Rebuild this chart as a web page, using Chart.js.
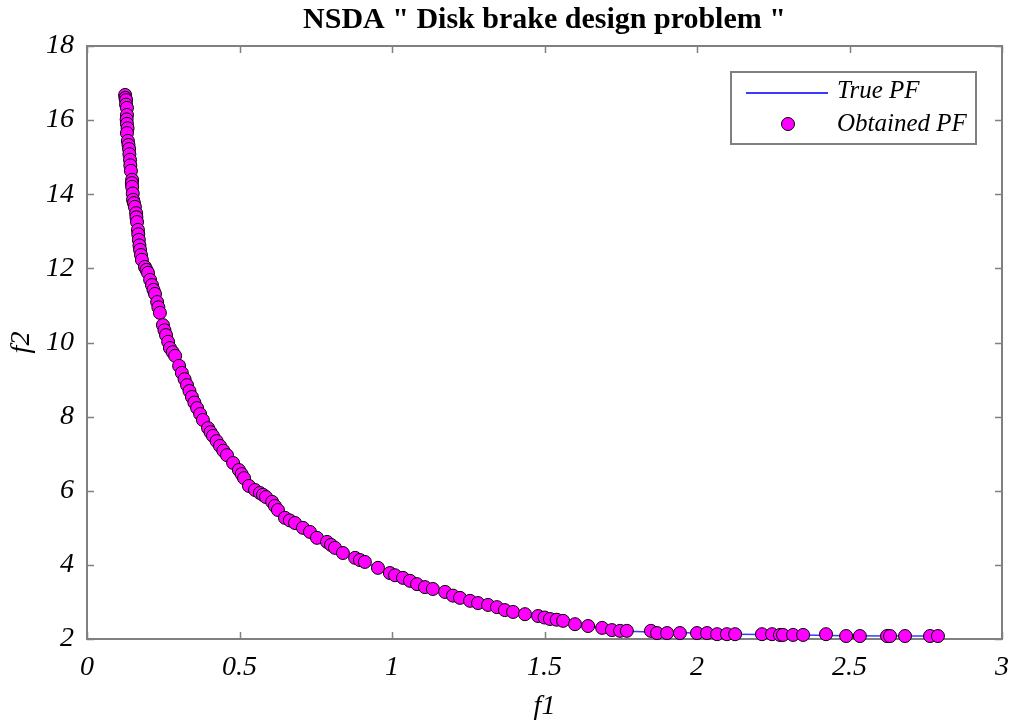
<!DOCTYPE html>
<html>
<head>
<meta charset="utf-8">
<title>NSDA Disk brake design problem</title>
<script src="https://cdn.jsdelivr.net/npm/chart.js@4.4.1/dist/chart.umd.min.js"></script>
<style>
    html, body { margin: 0; padding: 0; background: #fff; }
    #wrap { width: 1009px; height: 721px; }
</style>
</head>
<body>
<div id="wrap"><canvas id="pfChart" width="1009" height="721"></canvas></div>
<script>
// Obtained Pareto front
const obtainedF1 = [
    0.125, 0.126, 0.128, 0.128, 0.131, 0.131, 0.130, 0.131, 0.133, 0.131,
    0.134, 0.136, 0.138, 0.139, 0.141, 0.142, 0.144, 0.148, 0.147, 0.148,
    0.150, 0.151, 0.154, 0.157, 0.161, 0.162, 0.164, 0.167, 0.168, 0.170,
    0.172, 0.174, 0.177, 0.180, 0.190, 0.195, 0.200, 0.207, 0.213, 0.218,
    0.223, 0.230, 0.234, 0.239, 0.249, 0.254, 0.259, 0.266, 0.272, 0.281,
    0.289, 0.302, 0.311, 0.320, 0.328, 0.336, 0.344, 0.352, 0.361, 0.371,
    0.380, 0.397, 0.405, 0.413, 0.425, 0.436, 0.447, 0.459, 0.479, 0.498,
    0.507, 0.515, 0.531, 0.551, 0.567, 0.577, 0.587, 0.607, 0.616, 0.626,
    0.649, 0.665, 0.682, 0.708, 0.731, 0.754, 0.787, 0.800, 0.813, 0.839,
    0.879, 0.895, 0.911, 0.954, 0.993, 1.010, 1.036, 1.059, 1.082, 1.108,
    1.134, 1.174, 1.200, 1.223, 1.256, 1.282, 1.315, 1.344, 1.370, 1.397,
    1.436, 1.479, 1.500, 1.518, 1.540, 1.561, 1.600, 1.643, 1.689, 1.721,
    1.748, 1.770, 1.849, 1.869, 1.902, 1.944, 2.000, 2.033, 2.066, 2.098,
    2.125, 2.213, 2.246, 2.272, 2.282, 2.315, 2.348, 2.423, 2.489, 2.534,
    2.623, 2.633, 2.682, 2.764, 2.790
];
const obtainedF2 = [
    16.68, 16.60, 16.54, 16.42, 16.33, 16.14, 16.02, 15.90, 15.78, 15.65,
    15.44, 15.33, 15.22, 15.08, 14.93, 14.78, 14.63, 14.39, 14.30, 14.20,
    14.02, 13.85, 13.76, 13.66, 13.49, 13.38, 13.25, 13.04, 12.92, 12.77,
    12.62, 12.50, 12.36, 12.23, 12.04, 11.96, 11.88, 11.69, 11.55, 11.42,
    11.31, 11.09, 10.95, 10.80, 10.47, 10.33, 10.20, 10.02, 9.85, 9.74,
    9.64, 9.37, 9.18, 9.01, 8.85, 8.69, 8.53, 8.38, 8.23, 8.07,
    7.91, 7.69, 7.58, 7.48, 7.34, 7.21, 7.08, 6.96, 6.75, 6.56,
    6.45, 6.34, 6.13, 6.02, 5.94, 5.89, 5.83, 5.70, 5.59, 5.48,
    5.27, 5.20, 5.13, 5.00, 4.89, 4.73, 4.62, 4.54, 4.46, 4.32,
    4.19, 4.13, 4.08, 3.92, 3.78, 3.72, 3.65, 3.57, 3.48, 3.40,
    3.35, 3.27, 3.17, 3.11, 3.03, 2.97, 2.92, 2.86, 2.78, 2.73,
    2.67, 2.62, 2.58, 2.54, 2.52, 2.49, 2.40, 2.35, 2.30, 2.24,
    2.22, 2.22, 2.22, 2.16, 2.16, 2.16, 2.16, 2.16, 2.13, 2.13,
    2.13, 2.13, 2.13, 2.11, 2.11, 2.11, 2.11, 2.13, 2.08, 2.08,
    2.08, 2.08, 2.08, 2.08, 2.08
];

// True Pareto front
const trueF1 = [
    0.125, 0.131, 0.141, 0.151, 0.164, 0.180, 0.200, 0.223, 0.249, 0.272,
    0.302, 0.344, 0.380, 0.436, 0.498, 0.551, 0.607, 0.682, 0.754, 0.839,
    0.954, 1.082, 1.223, 1.370, 1.518, 1.643, 1.770, 1.849, 2.000, 2.125,
    2.213, 2.348, 2.489, 2.633, 2.790
];
const trueF2 = [
    16.68, 16.14, 14.93, 13.85, 13.25, 12.23, 11.88, 11.31, 10.47, 9.85,
    9.37, 8.53, 7.91, 7.21, 6.56, 6.02, 5.70, 5.13, 4.73, 4.32,
    3.92, 3.48, 3.11, 2.78, 2.54, 2.35, 2.21, 2.19, 2.16, 2.13,
    2.12, 2.11, 2.09, 2.08, 2.08
];

const xTicks = [0, 0.5, 1, 1.5, 2, 2.5, 3];
const yTicks = [2, 4, 6, 8, 10, 12, 14, 16, 18];
const seriesNames = ['True PF', 'Obtained PF'];
const chartTitle = 'NSDA " Disk brake design problem "';

const frameColor = '#808080';
const serif = '"Liberation Serif", "DejaVu Serif", serif';

// frame + inward ticks, matlab style
const matlabFrame = {
    id: 'matlabFrame',
    beforeDatasetsDraw(chart) {
        const { ctx, chartArea: a, scales } = chart;
        const tl = 7;
        ctx.save();
        ctx.strokeStyle = frameColor;
        ctx.lineWidth = 2;
        ctx.strokeRect(a.left, a.top, a.right - a.left, a.bottom - a.top);
        ctx.lineWidth = 1.5;
        ctx.beginPath();
        xTicks.forEach(v => {
            const px = Math.round(scales.x.getPixelForValue(v)) + 0.5;
            ctx.moveTo(px, a.bottom); ctx.lineTo(px, a.bottom - tl);
            ctx.moveTo(px, a.top); ctx.lineTo(px, a.top + tl);
        });
        yTicks.forEach(v => {
            const py = Math.round(scales.y.getPixelForValue(v)) + 0.5;
            ctx.moveTo(a.left, py); ctx.lineTo(a.left + tl, py);
            ctx.moveTo(a.right, py); ctx.lineTo(a.right - tl, py);
        });
        ctx.stroke();

        // title
        ctx.fillStyle = '#000';
        ctx.font = 'bold 30px ' + serif;
        ctx.textAlign = 'center';
        ctx.textBaseline = 'middle';
        ctx.fillText(chartTitle, (a.left + a.right) / 2, 20);
        ctx.restore();
    }
};

// legend box inside the axes, top right
const boxLegend = {
    id: 'boxLegend',
    afterDatasetsDraw(chart) {
        const { ctx, chartArea: a } = chart;
        const w = 245, h = 72;
        const x0 = a.right - 26 - w, y0 = a.top + 26;
        const lineDs = chart.data.datasets[1];
        const dotDs = chart.data.datasets[0];
        ctx.save();
        ctx.fillStyle = '#fff';
        ctx.fillRect(x0, y0, w, h);
        ctx.strokeStyle = frameColor;
        ctx.lineWidth = 2;
        ctx.strokeRect(x0, y0, w, h);

        // line sample
        ctx.strokeStyle = lineDs.borderColor;
        ctx.lineWidth = 2;
        ctx.beginPath();
        ctx.moveTo(x0 + 15, y0 + 21);
        ctx.lineTo(x0 + 97, y0 + 21);
        ctx.stroke();

        // marker sample
        ctx.beginPath();
        ctx.arc(x0 + 57, y0 + 52, 6.5, 0, Math.PI * 2);
        ctx.fillStyle = dotDs.pointBackgroundColor;
        ctx.fill();
        ctx.lineWidth = 1;
        ctx.strokeStyle = dotDs.pointBorderColor;
        ctx.stroke();

        ctx.fillStyle = '#000';
        ctx.font = 'italic 25px ' + serif;
        ctx.textAlign = 'left';
        ctx.textBaseline = 'middle';
        ctx.fillText(seriesNames[0], x0 + 106, y0 + 19);
        ctx.fillText(seriesNames[1], x0 + 106, y0 + 52);
        ctx.restore();
    }
};

const ctx = document.getElementById('pfChart').getContext('2d');
const pfChart = new Chart(ctx, {
    type: 'scatter',
    data: {
        datasets: [
            {
                label: seriesNames[1],
                data: obtainedF1.map((v, i) => ({ x: v, y: obtainedF2[i] })),
                pointBackgroundColor: '#ff00ff',
                pointBorderColor: '#000000',
                pointBorderWidth: 1,
                pointRadius: 6.5,
                showLine: false,
                clip: false
            },
            {
                label: seriesNames[0],
                data: trueF1.map((v, i) => ({ x: v, y: trueF2[i] })),
                borderColor: '#3a3aff',
                borderWidth: 1.5,
                pointRadius: 0,
                showLine: true,
                tension: 0,
                clip: false
            }
        ]
    },
    options: {
        responsive: false,
        animation: false,
        devicePixelRatio: 1,
        layout: {
            autoPadding: false,
            padding: { left: 0, right: 7, top: 46, bottom: 0 }
        },
        plugins: {
            legend: { display: false },
            title: { display: false },
            tooltip: { enabled: false }
        },
        scales: {
            x: {
                type: 'linear',
                min: 0,
                max: 3,
                afterBuildTicks: s => { s.ticks = xTicks.map(v => ({ value: v })); },
                afterFit: s => {
                    s.height = 82;
                    s.paddingLeft = 0;
                    s.paddingRight = 0;
                },
                grid: { display: false, drawTicks: false },
                border: { display: false },
                ticks: {
                    color: '#000',
                    font: { family: serif, size: 28, style: 'italic' },
                    padding: 12,
                    maxRotation: 0,
                    callback: v => String(v)
                },
                title: {
                    display: true,
                    text: 'f1',
                    color: '#000',
                    font: { family: serif, size: 28, style: 'italic', lineHeight: 1 },
                    padding: { top: 0, bottom: 0 }
                }
            },
            y: {
                type: 'linear',
                min: 2,
                max: 18,
                afterBuildTicks: s => { s.ticks = yTicks.map(v => ({ value: v })); },
                afterFit: s => {
                    s.width = 87;
                    s.paddingTop = 0;
                    s.paddingBottom = 0;
                },
                grid: { display: false, drawTicks: false },
                border: { display: false },
                ticks: {
                    color: '#000',
                    font: { family: serif, size: 28, style: 'italic' },
                    padding: 13,
                    callback: v => String(v)
                },
                title: {
                    display: true,
                    text: 'f2',
                    color: '#000',
                    font: { family: serif, size: 28, style: 'italic', lineHeight: 1 },
                    padding: { top: 8, bottom: 0 }
                }
            }
        }
    },
    plugins: [matlabFrame, boxLegend]
});
</script>
</body>
</html>
